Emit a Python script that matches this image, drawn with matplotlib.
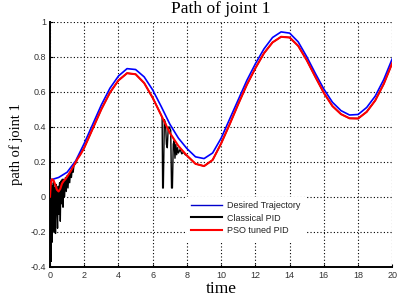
import numpy as np
import matplotlib
matplotlib.use("Agg")
import matplotlib.pyplot as plt
from matplotlib.lines import Line2D

# ---------------- data ----------------
desired_t = np.arange(0, 20.01, 0.5)
desired_v = [0.095, 0.11, 0.14, 0.205, 0.305, 0.415, 0.525, 0.62, 0.69, 0.732,
             0.727, 0.685, 0.61, 0.515, 0.415, 0.335, 0.275, 0.228, 0.218, 0.25,
             0.335, 0.445, 0.555, 0.665, 0.76, 0.845, 0.91, 0.942, 0.935, 0.885,
             0.80, 0.705, 0.615, 0.54, 0.492, 0.467, 0.47, 0.51, 0.575, 0.67, 0.79]

pso_early_t = [0, 0.04, 0.1, 0.2, 0.3, 0.4, 0.5, 0.6, 0.7, 0.8, 0.9, 1.0, 1.2, 1.4, 1.6, 1.8]
pso_early_v = [0.0, 0.07, 0.1, 0.095, 0.07, 0.04, 0.03, 0.045, 0.075, 0.09, 0.1,
               0.115, 0.145, 0.18, 0.215, 0.245]
pso_main_t = np.arange(2, 20.01, 0.5)
pso_main_v = [0.28, 0.39, 0.50, 0.595, 0.665, 0.706, 0.70, 0.65, 0.565, 0.465,
              0.365, 0.29, 0.235, 0.188, 0.175, 0.21, 0.305, 0.415, 0.53, 0.64,
              0.735, 0.82, 0.882, 0.914, 0.91, 0.862, 0.78, 0.685, 0.593, 0.518,
              0.472, 0.448, 0.447, 0.485, 0.55, 0.645, 0.765]

pid_early_t = [0, 0.03, 0.06, 0.09, 0.12, 0.15, 0.18, 0.21, 0.24, 0.28, 0.32, 0.36,
               0.4, 0.44, 0.48, 0.52, 0.56, 0.6, 0.64, 0.68, 0.72, 0.76, 0.8,
               0.85, 0.9, 0.95, 1.0, 1.05, 1.1, 1.15, 1.2, 1.25, 1.3, 1.35, 1.4,
               1.5, 1.6, 1.7, 1.8]
pid_early_v = [0.0, 0.06, -0.37, 0.08, -0.26, 0.06, -0.15, 0.09, -0.2, 0.05, -0.21,
               0.07, -0.05, -0.18, 0.06, -0.1, 0.08, -0.14, 0.09, -0.04,
               0.1, -0.06, 0.1, 0.0, 0.11, 0.03, 0.12, 0.05, 0.13, 0.08, 0.15,
               0.11, 0.16, 0.14, 0.18, 0.19, 0.22, 0.23, 0.25]
pid_burst_t = [6.55, 6.58, 6.62, 6.68, 6.75, 6.8, 6.85, 6.9, 6.95, 7.05, 7.1, 7.15,
               7.2, 7.25, 7.3, 7.35, 7.4, 7.45, 7.5, 7.6, 7.7, 7.8, 7.9]
pid_burst_v = [0.45, 0.05, 0.05, 0.44, 0.42, 0.30, 0.28, 0.38, 0.40, 0.38, 0.05,
               0.05, 0.30, 0.32, 0.22, 0.30, 0.24, 0.28, 0.25, 0.27, 0.245, 0.255,
               0.24]

x_ticks = list(range(0, 21, 2))
y_ticks = [-0.4, -0.2, 0, 0.2, 0.4, 0.6, 0.8, 1]
y_tick_labels = ["-0.4", "-0.2", "0", "0.2", "0.4", "0.6", "0.8", "1"]

# ---------------- assemble series ----------------
pso_t = np.concatenate([pso_early_t, pso_main_t])
pso_v = np.concatenate([pso_early_v, pso_main_v])

pso_main_t_arr = np.asarray(pso_main_t)
pso_main_v_arr = np.asarray(pso_main_v)
m1 = pso_main_t_arr <= 6.5
m2 = pso_main_t_arr >= 8.0
pid_t = np.concatenate([pid_early_t, pso_main_t_arr[m1], pid_burst_t, pso_main_t_arr[m2]])
pid_v = np.concatenate([pid_early_v, pso_main_v_arr[m1], pid_burst_v, pso_main_v_arr[m2]])

# ---------------- figure ----------------
fig = plt.figure(figsize=(4.07, 2.98), dpi=100)
ax = fig.add_axes([0.1229, 0.105, 0.8411, 0.822])

ax.plot(pid_t, pid_v, color="black", lw=1.0, zorder=3)
ax.plot(desired_t, desired_v, color="#0000ff", lw=1.2, zorder=4)
ax.plot(pso_t, pso_v, color="#ff0000", lw=1.5, zorder=5)

ax.set_xlim(0, 20)
ax.set_ylim(-0.4, 1)
ax.set_xticks(x_ticks)
ax.set_xticklabels([str(v) for v in x_ticks])
ax.set_yticks(y_ticks)
ax.set_yticklabels(y_tick_labels)

for lab in ax.get_xticklabels() + ax.get_yticklabels():
    lab.set_fontfamily("Liberation Sans")
    lab.set_fontsize(6.5)
    lab.set_color("#333333")
ax.tick_params(direction="in", length=2.5, width=0.8, pad=3, colors="black",
               labelcolor="#333333")

ax.grid(True, color="black", linestyle=(0, (1, 2)), linewidth=0.8)
ax.set_axisbelow(True)
for s in ["top", "right"]:
    ax.spines[s].set_visible(False)
for s in ["left", "bottom"]:
    ax.spines[s].set_linewidth(1.4)
    ax.spines[s].set_color("black")

ax.set_title("Path of joint 1", family="Liberation Serif", fontsize=12.5, pad=6)
ax.set_xlabel("time", family="Liberation Serif", fontsize=12.5, labelpad=1)
ax.set_ylabel("path of joint 1", family="Liberation Serif", fontsize=10.5, labelpad=5)

handles = [Line2D([], [], color="#0000cc", lw=1.0),
           Line2D([], [], color="black", lw=1.5),
           Line2D([], [], color="#ff0000", lw=1.5)]
labels = ["Desired Trajectory", "Classical PID", "PSO tuned PID"]
leg = ax.legend(handles, labels, loc="upper left", bbox_to_anchor=(0.385, 0.305),
                prop=dict(family="Liberation Sans", size=6.5), frameon=True,
                handlelength=3.5, handletextpad=0.5, labelspacing=0.4,
                borderpad=0.5, fancybox=False)
leg.get_frame().set_facecolor("white")
leg.get_frame().set_edgecolor("white")
leg.get_frame().set_alpha(1.0)
for t in leg.get_texts():
    t.set_color("#222222")

fig.savefig("out.png", dpi=100)
